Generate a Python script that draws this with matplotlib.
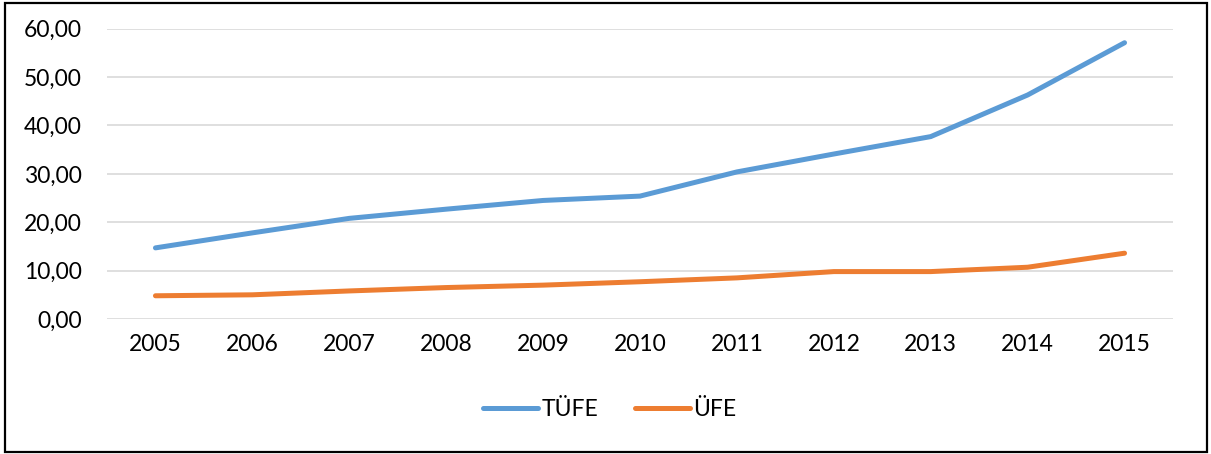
import matplotlib.pyplot as plt
from matplotlib.patches import Rectangle

plt.rcParams['font.family'] = ['Lato', 'DejaVu Sans']

years = ['2005', '2006', '2007', '2008', '2009', '2010', '2011', '2012', '2013', '2014', '2015']
tufe = [14.7, 17.8, 20.8, 22.7, 24.5, 25.4, 30.4, 34.1, 37.7, 46.3, 57.1]
ufe = [4.8, 5.0, 5.8, 6.5, 7.0, 7.7, 8.5, 9.8, 9.8, 10.7, 13.6]
yticks = [0, 10, 20, 30, 40, 50, 60]

fig = plt.figure(figsize=(12.11, 4.54), dpi=100)
ax = fig.add_axes([107/1211, 1-319/454, (1173-107)/1211, (319-28.7)/454])

x = range(len(years))
ax.plot(x, tufe, color='#5B9BD5', lw=3.6, solid_capstyle='round', label='TÜFE')
ax.plot(x, ufe, color='#ED7D31', lw=3.6, solid_capstyle='round', label='ÜFE')

ax.set_xlim(-0.5, len(years) - 0.5)
ax.set_ylim(0, 60)
ax.set_xticks(list(x))
ax.set_xticklabels(years)
ax.set_yticks(yticks)
ax.set_yticklabels(['%d,00' % v for v in yticks])
ax.tick_params(axis='both', length=0, labelsize=16.5, colors='black')
ax.tick_params(axis='y', pad=18)
ax.tick_params(axis='x', pad=11)
ax.grid(axis='y', color='#D9D9D9', lw=1.2)
ax.set_axisbelow(True)
for s in ax.spines.values():
    s.set_visible(False)

fig.legend(loc='center', bbox_to_anchor=(610/1211, 1-410/454), ncol=2, frameon=False,
           fontsize=16.5, handlelength=2.4, handletextpad=0.15, columnspacing=1.6)

fig.patches.append(Rectangle((5/1211, 2/454), 1202/1211, 449/454, transform=fig.transFigure,
                             fill=False, edgecolor='black', lw=1.6))

fig.savefig('out.png', dpi=100)
